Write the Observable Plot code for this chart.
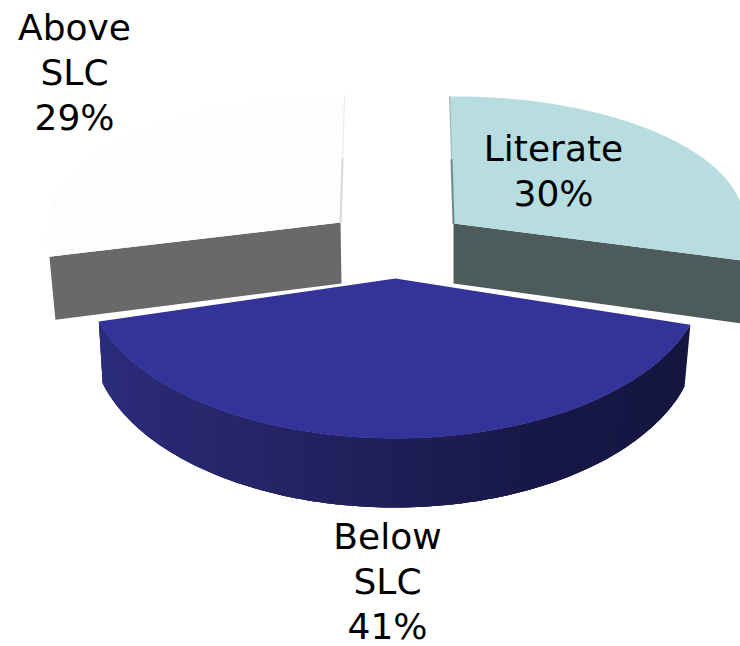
<!DOCTYPE html>
<html>
<head>
<meta charset="utf-8">
<script src="https://cdn.jsdelivr.net/npm/d3@7"></script>
<script src="https://cdn.jsdelivr.net/npm/@observablehq/plot@0.6"></script>
<style>html,body{margin:0;padding:0;background:#fff}svg{display:block}</style>
</head>
<body>
<div id="chart"></div>
<script>
const names = ["Below\nSLC", "Above\nSLC", "Literate"];
const values = [41, 29, 30];

const startAngle = 16.8;
const geometry = [
  {cx:395, cy:278, rx:308, ry:160, skew:0, flare:0,
   bottom:{cx:394, cy:337, rx:303, ry:170, skew:0, flare:0}, top:"#333399", label:[387,579.5]},
  {cx:340, cy:222, rx:292, ry:127, skew:-0.081, flare:0.13,
   wall:{apex:[1,61], tip:[6,63]}, top:"#fdfdfd", side:"#696969", edge:"#d8d8d8", label:[74,70.5]},
  {cx:453, cy:223, rx:291, ry:127, skew:-0.017, flare:0.1,
   wall:{apex:[0,60], tip:[0,63]}, top:"#b7dde0", side:"#4d5b5b", edge:"#71888a", label:[553,168.5]}
];

const total = d3.sum(values);
let a = startAngle;
const slices = values.map((v, i) => {
  const s = {...geometry[i], a0: a, a1: a + v / total * 360, i};
  a = s.a1;
  return s;
});
const pt = (s, deg) => {
  const t = deg * Math.PI / 180, sn = Math.sin(t), dy = s.ry * sn;
  return {
    x: s.cx + s.rx * Math.cos(t) * (1 + s.flare * Math.max(0, sn)) + s.skew * dy * sn ** 8,
    y: s.cy + dy
  };
};
const arc = (s, a0, a1, n = 120) => d3.range(n + 1).map(k => pt(s, a0 + (a1 - a0) * k / n));

const marks = [];
const poly = (points, fill) => marks.push(Plot.line(points, {x:"x", y:"y", fill, stroke:"none", curve:"linear-closed"}));

// back slices
for (const s of slices.slice(1)) {
  const apex = {x:s.cx, y:s.cy};
  const tip = pt(s, s.i === 1 ? s.a0 : s.a1);
  poly([apex, tip,
        {x:tip.x + s.wall.tip[0], y:tip.y + s.wall.tip[1]},
        {x:apex.x + s.wall.apex[0], y:apex.y + s.wall.apex[1]}], s.side);
  poly([apex, ...arc(s, s.a0, s.a1)], s.top);
  const end = pt(s, s.i === 1 ? s.a1 : s.a0);
  const mid = {x:(apex.x + end.x) / 2, y:(apex.y + end.y) / 2};
  marks.push(Plot.line([end, mid], {x:"x", y:"y", stroke:s.edge, strokeWidth:1.2, strokeOpacity:0.5}));
  marks.push(Plot.line([mid, apex], {x:"x", y:"y", stroke:s.edge, strokeWidth:2}));
}

// front slice: shaded wall, painted left to right with overlap, then the top
const front = slices[0];
const shade = d3.scaleLinear()
  .domain([front.a0, front.a0 + 45, front.a1 - 50, front.a1])
  .range(["#151540", "#181848", "#252568", "#2d2d80"]);
const steps = 120;
const span = front.a1 - front.a0;
const quads = [];
for (let k = steps - 1; k >= 0; k--) {
  const b0 = front.a0 + span * k / steps;
  const b1 = front.a0 + span * Math.min(steps, k + 3) / steps;
  const color = d3.color(shade(b0)).formatHex();
  const p = [...arc(front, b0, b1, 3), ...arc(front.bottom, b1, b0, 3)];
  p.forEach(q => quads.push({...q, k, color}));
}
marks.push(Plot.line(quads, {x:"x", y:"y", z:"k", fill:"color", stroke:"none", curve:"linear-closed"}));
poly([{x:front.cx, y:front.cy}, ...arc(front, front.a0, front.a1)], front.top);

// labels
const labels = slices.map((s, i) => ({x:s.label[0], y:s.label[1], text:`${names[i]}\n${values[i]}%`}));
marks.push(Plot.text(labels, {
  x:"x", y:"y", text:"text", fontSize:36, lineHeight:1.25,
  fontFamily:"'DejaVu Sans'", fill:"#000", textAnchor:"middle"
}));

document.getElementById("chart").append(Plot.plot({
  width:740, height:646, margin:0,
  x:{domain:[0,740], range:[0,740], axis:null},
  y:{domain:[0,646], range:[0,646], axis:null},
  color:{type:"identity"},
  style:{background:"#fff"},
  marks
}));
</script>
</body>
</html>
